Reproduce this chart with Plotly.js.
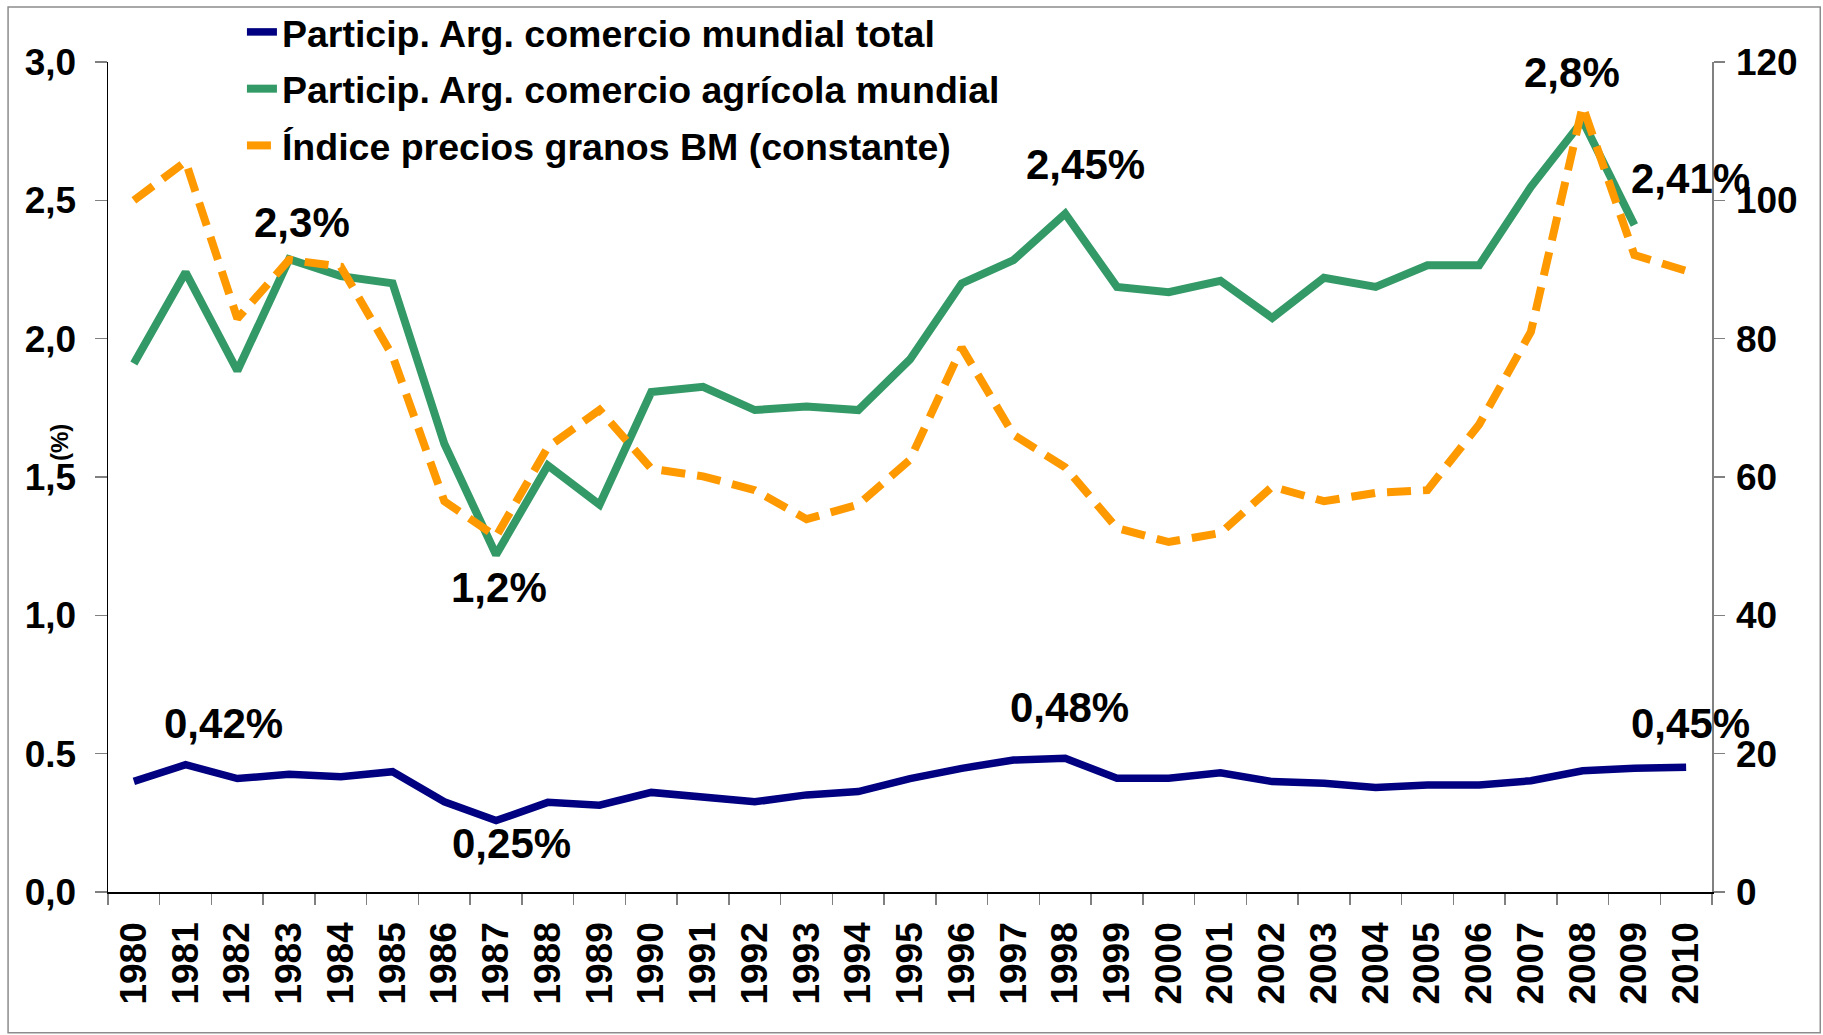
<!DOCTYPE html>
<html>
<head>
<meta charset="utf-8">
<script src="https://cdn.plot.ly/plotly-3.0.1.min.js"></script>
<style>
  html, body { margin: 0; padding: 0; background: #ffffff; }
  #chart { width: 1823px; height: 1035px; }
</style>
</head>
<body>
<div id="chart"></div>
<script>
// ---- data ----
const years = ["1980","1981","1982","1983","1984","1985","1986","1987","1988","1989",
               "1990","1991","1992","1993","1994","1995","1996","1997","1998","1999",
               "2000","2001","2002","2003","2004","2005","2006","2007","2008","2009","2010"];

// Particip. Arg. comercio mundial total (%)
const totalShare = [0.40, 0.46, 0.41, 0.426, 0.417, 0.435, 0.326, 0.258, 0.324, 0.314,
                    0.36, 0.342, 0.326, 0.351, 0.363, 0.41, 0.447, 0.477, 0.483, 0.411,
                    0.411, 0.431, 0.399, 0.393, 0.378, 0.387, 0.387, 0.402, 0.438, 0.447, 0.451];

// Particip. Arg. comercio agrícola mundial (%)
const agriShare = [1.91, 2.24, 1.884, 2.287, 2.226, 2.20, 1.62, 1.219, 1.542, 1.40,
                   1.807, 1.826, 1.742, 1.755, 1.742, 1.925, 2.20, 2.284, 2.452, 2.187,
                   2.168, 2.209, 2.075, 2.22, 2.187, 2.265, 2.265, 2.549, 2.788, 2.411, null];

// Índice precios granos BM (constante)
const grainIndex = [100.0, 105.6, 82.9, 91.4, 90.4, 77.5, 56.5, 51.4, 64.3, 69.7,
                    61.2, 60.1, 58.1, 53.9, 56.0, 62.5, 78.7, 66.1, 61.4, 52.6,
                    50.6, 51.9, 58.6, 56.5, 57.7, 58.1, 67.6, 81.0, 113.6, 92.1, 89.8];

const seriesNames = ["Particip. Arg. comercio mundial total",
                     "Particip. Arg. comercio agrícola mundial",
                     "Índice precios granos BM (constante)"];

const leftTickVals = [0, 0.5, 1, 1.5, 2, 2.5, 3];
const leftTickText = ["0,0", "0.5", "1,0", "1,5", "2,0", "2,5", "3,0"];
const rightTickVals = [0, 20, 40, 60, 80, 100, 120];

// data labels: [text, category position, value]
const labelTexts = ["2,3%", "1,2%", "2,45%", "2,8%", "2,41%", "0,42%", "0,25%", "0,48%", "0,45%"];
const labelX     = [3.25, 7.06, 18.39, 27.8, 30.08, 1.74, 7.29, 18.09, 30.08];
const labelY     = [2.420, 1.099, 2.629, 2.963, 2.579, 0.608, 0.175, 0.667, 0.608];

// ---- chart ----
const FONT = "Liberation Sans, Arial, Helvetica, sans-serif";

const traces = [
  { x: years, y: totalShare, name: seriesNames[0], type: "scatter", mode: "lines",
    legendgroup: "g1",
    line: { color: "#000080", width: 7.5 }, yaxis: "y" },
  { x: years, y: agriShare, name: seriesNames[1], type: "scatter", mode: "lines",
    legendgroup: "g2",
    line: { color: "#339966", width: 8 }, yaxis: "y" },
  { x: years, y: grainIndex, name: seriesNames[2], type: "scatter", mode: "lines",
    legendgroup: "g3",
    line: { color: "#FF9900", width: 8, dash: "24px,12px" }, yaxis: "y2" }
];

const annotations = labelTexts.map((t, i) => ({
  text: t, x: labelX[i], y: labelY[i], xref: "x", yref: "y",
  showarrow: false, xanchor: "center", yanchor: "middle",
  font: { family: FONT, size: 42, color: "#000000", weight: "bold" }
}));
annotations.push({
  text: "(%)", textangle: -90, xref: "paper", yref: "paper",
  x: -0.0299, y: 0.541, showarrow: false, xanchor: "center", yanchor: "middle",
  font: { family: FONT, size: 24, color: "#000000", weight: "bold" }
});

const layout = {
  width: 1823, height: 1035,
  margin: { l: 108, r: 111, t: 62, b: 143, pad: 0, autoexpand: false },
  paper_bgcolor: "#ffffff", plot_bgcolor: "#ffffff",
  font: { family: FONT, color: "#000000", weight: "bold" },
  showlegend: true,
  legend: {
    x: 0.0835, xanchor: "left",
    yref: "container", y: 0.999, yanchor: "top",
    bgcolor: "rgba(0,0,0,0)", borderwidth: 0,
    font: { family: FONT, size: 37.5, color: "#000000", weight: "bold" },
    traceorder: "grouped",
    tracegroupgap: 5
  },
  hovermode: false,
  xaxis: {
    type: "category", range: [-0.5, 30.5],
    showgrid: false, zeroline: false,
    showline: true, linecolor: "#000000", linewidth: 1.5,
    ticks: "outside", tickson: "boundaries", ticklen: 11, tickcolor: "#808080", tickwidth: 1.5,
    tickangle: -90, ticklabelstandoff: 14,
    tickfont: { family: FONT, size: 37, color: "#000000", weight: "bold" },
    automargin: false, fixedrange: true
  },
  yaxis: {
    range: [0, 3], showgrid: false, zeroline: false,
    showline: true, linecolor: "#000000", linewidth: 1.5,
    ticks: "outside", ticklen: 12, tickcolor: "#808080", tickwidth: 1.5,
    tickvals: leftTickVals, ticktext: leftTickText, ticklabelstandoff: 11,
    tickfont: { family: FONT, size: 37, color: "#000000", weight: "bold" },
    automargin: false, fixedrange: true
  },
  yaxis2: {
    range: [0, 120], overlaying: "y", side: "right",
    showgrid: false, zeroline: false,
    showline: true, linecolor: "#808080", linewidth: 1.5,
    ticks: "outside", ticklen: 11, tickcolor: "#808080", tickwidth: 1.5,
    tickvals: rightTickVals, ticklabelstandoff: 4,
    tickfont: { family: FONT, size: 37, color: "#000000", weight: "bold" },
    automargin: false, fixedrange: true
  },
  annotations: annotations,
  shapes: [{
    type: "rect", xref: "paper", yref: "paper",
    x0: -0.0623, x1: 1.0675, y0: -0.1695, y1: 1.0663,
    line: { color: "#8c8c8c", width: 1.5 }, fillcolor: "rgba(0,0,0,0)", layer: "below"
  }]
};

Plotly.newPlot("chart", traces, layout, { displayModeBar: false, staticPlot: true });
</script>
</body>
</html>
